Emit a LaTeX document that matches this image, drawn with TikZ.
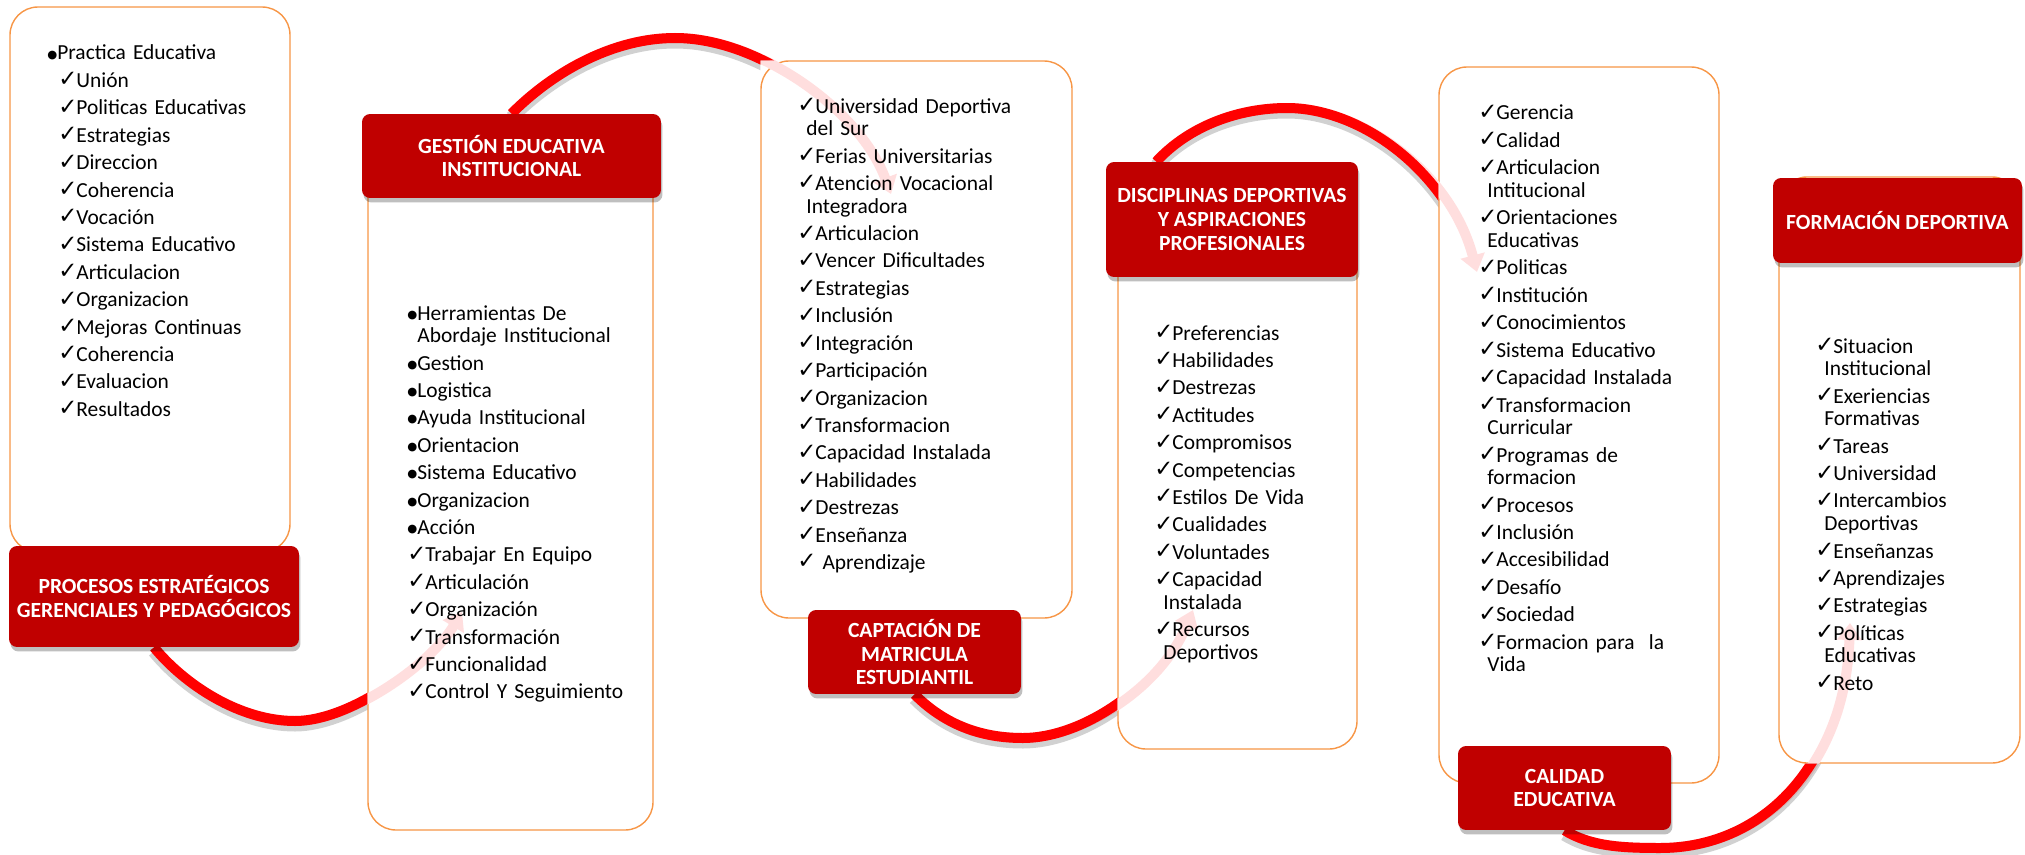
\documentclass[tikz,border=0pt]{standalone}
\usepackage{fontspec}
\setmainfont{Carlito}
\newfontfamily\checkfont{DejaVu Sans}
\usetikzlibrary{arrows.meta,fit,shadows,calc}
\definecolor{titlered}{RGB}{192,0,0}
\definecolor{boxorange}{RGB}{247,150,70}
\definecolor{arcred}{RGB}{255,0,0}
\pgfdeclarelayer{boxes}
\pgfdeclarelayer{arcs}
\pgfsetlayers{boxes,arcs,main}

\newcommand{\chkm}{\makebox[0.36cm][l]{\checkfont\fontsize{13}{13}\selectfont\raisebox{0.3pt}{✓}}}
\newcommand{\chkin}{\hspace*{0.22cm}\chkm}
\newcommand{\bull}{\makebox[0.2cm][l]{\checkfont\fontsize{6.5}{6.5}\selectfont\raisebox{1.1pt}{●}}}
\newcommand{\contind}{\hspace*{0.18cm}}
\newcommand{\nxt}{\\[2.7pt]}
% arc from a title into the next list box: solid outside the box, pale inside
\newcommand{\flowarc}[2]{%
  \draw[arcfade] #1;
  \begin{scope}[even odd rule]
    \clip (0,0) rectangle (2025,855) (#2.south west) rectangle (#2.north east);
    \draw[arcshadow] #1;
    \draw[arcsolid] #1;
  \end{scope}}

\begin{document}
\begin{tikzpicture}[
    x=0.02cm, y=-0.02cm,
    listbox/.style={rectangle, rounded corners=0.56cm, draw=boxorange, line width=0.8pt,
                 fill=white, inner sep=0pt},
    listtext/.style={anchor=base west, inner sep=0pt, text width=6cm, align=left,
                 font=\fontsize{12.2}{12.9}\selectfont},
    titlebox/.style={rectangle, rounded corners=0.16cm, fill=titlered, text=white, align=center,
                 font=\bfseries\fontsize{12.3}{13.4}\selectfont,
                 drop shadow={shadow xshift=0.03cm, shadow yshift=-0.09cm, opacity=0.25, fill=black}},
    arcsolid/.style={draw=arcred, line width=0.2cm},
    arcshadow/.style={draw=black, opacity=0.18, line width=0.26cm, transform canvas={yshift=-0.08cm}},
    arcfade/.style={draw=arcred!13, line width=0.2cm, -{Triangle[width=0.48cm,length=0.34cm]}}
]
\useasboundingbox (0,0) rectangle (2025,855);

\begin{pgfonlayer}{boxes}
\node[listbox, fit={(10,7) (290,552)}] (l1) {};
\node[listbox, fit={(368,118) (653,830)}] (l2) {};
\node[listbox, fit={(761,61) (1072,618)}] (l3) {};
\node[listbox, fit={(1118,168) (1357,749)}] (l4) {};
\node[listbox, fit={(1439,67) (1719,783)}] (l5) {};
\node[listbox, fit={(1779,177) (2020,763)}] (l6) {};
\end{pgfonlayer}

\node[titlebox, minimum width=5.8cm, minimum height=2.02cm] (t1) at (154,596.5)
    {PROCESOS ESTRATÉGICOS\\GERENCIALES Y PEDAGÓGICOS};
\node[titlebox, minimum width=5.98cm, minimum height=1.68cm] (t2) at (511.5,156)
    {GESTIÓN EDUCATIVA\\INSTITUCIONAL};
\node[titlebox, minimum width=4.26cm, minimum height=1.68cm] (t3) at (914.5,652)
    {CAPTACIÓN DE\\MATRICULA\\ESTUDIANTIL};
\node[titlebox, minimum width=5.04cm, minimum height=2.3cm] (t4) at (1232,219.5)
    {DISCIPLINAS DEPORTIVAS\\Y ASPIRACIONES\\PROFESIONALES};
\node[titlebox, minimum width=4.26cm, minimum height=1.68cm] (t5) at (1564.5,788)
    {CALIDAD\\EDUCATIVA};
\node[titlebox, minimum width=4.98cm, minimum height=1.7cm] (t6) at (1897.5,220.5)
    {FORMACIÓN DEPORTIVA};

\node[listtext] (x1) at (47,60) {\bull Practica Educativa\nxt
  \chkin Unión\nxt
  \chkin Politicas Educativas\nxt
  \chkin Estrategias\nxt
  \chkin Direccion\nxt
  \chkin Coherencia\nxt
  \chkin Vocación\nxt
  \chkin Sistema Educativo\nxt
  \chkin Articulacion\nxt
  \chkin Organizacion\nxt
  \chkin Mejoras Continuas\nxt
  \chkin Coherencia\nxt
  \chkin Evaluacion\nxt
  \chkin Resultados};

\node[listtext] (x2) at (407,320) {\bull Herramientas De\\
  \hspace*{0.2cm}Abordaje Institucional\nxt
  \bull Gestion\nxt
  \bull Logistica\nxt
  \bull Ayuda Institucional\nxt
  \bull Orientacion\nxt
  \bull Sistema Educativo\nxt
  \bull Organizacion\nxt
  \bull Acción\nxt
  \chkm Trabajar En Equipo\nxt
  \chkm Articulación\nxt
  \chkm Organización\nxt
  \chkm Transformación\nxt
  \chkm Funcionalidad\nxt
  \chkm Control Y Seguimiento};

\node[listtext] (x3) at (797,113) {\chkm Universidad Deportiva\\
  \contind del Sur\nxt
  \chkm Ferias Universitarias\nxt
  \chkm Atencion Vocacional\\
  \contind Integradora\nxt
  \chkm Articulacion\nxt
  \chkm Vencer Dificultades\nxt
  \chkm Estrategias\nxt
  \chkm Inclusión\nxt
  \chkm Integración\nxt
  \chkm Participación\nxt
  \chkm Organizacion\nxt
  \chkm Transformacion\nxt
  \chkm Capacidad Instalada\nxt
  \chkm Habilidades\nxt
  \chkm Destrezas\nxt
  \chkm Enseñanza\nxt
  \chkm\ Aprendizaje};

\node[listtext] (x4) at (1154,340) {\chkm Preferencias\nxt
  \chkm Habilidades\nxt
  \chkm Destrezas\nxt
  \chkm Actitudes\nxt
  \chkm Compromisos\nxt
  \chkm Competencias\nxt
  \chkm Estilos De Vida\nxt
  \chkm Cualidades\nxt
  \chkm Voluntades\nxt
  \chkm Capacidad\\
  \contind Instalada\nxt
  \chkm Recursos\\
  \contind Deportivos};

\node[listtext] (x5) at (1478,120) {\chkm Gerencia\nxt
  \chkm Calidad\nxt
  \chkm Articulacion\\
  \contind Intitucional\nxt
  \chkm Orientaciones\\
  \contind Educativas\nxt
  \chkm Politicas\nxt
  \chkm Institución\nxt
  \chkm Conocimientos\nxt
  \chkm Sistema Educativo\nxt
  \chkm Capacidad Instalada\nxt
  \chkm Transformacion\\
  \contind Curricular\nxt
  \chkm Programas de\\
  \contind formacion\nxt
  \chkm Procesos\nxt
  \chkm Inclusión\nxt
  \chkm Accesibilidad\nxt
  \chkm Desafío\nxt
  \chkm Sociedad\nxt
  \chkm Formacion para\ \ la\\
  \contind Vida};

\node[listtext] (x6) at (1815,353) {\chkm Situacion\\
  \contind Institucional\nxt
  \chkm Exeriencias\\
  \contind Formativas\nxt
  \chkm Tareas\nxt
  \chkm Universidad\nxt
  \chkm Intercambios\\
  \contind Deportivas\nxt
  \chkm Enseñanzas\nxt
  \chkm Aprendizajes\nxt
  \chkm Estrategias\nxt
  \chkm Políticas\\
  \contind Educativas\nxt
  \chkm Reto};

\coordinate (a1) at (462,612);
\coordinate (a2) at (891,194);
\coordinate (a3) at (1193,610);
\coordinate (a4) at (1477,272);
\coordinate (a5) at (1850,623);
\coordinate (s4) at ($(t4.north west)!0.2!(t4.north east)$);

\begin{pgfonlayer}{arcs}
\flowarc{(t1.south) .. controls (185,685) and (240,721) .. (295,721)
    .. controls (350,721) and (430,665) .. (a1)}{l2}
\flowarc{(t2.north) .. controls (555,70) and (615,38) .. (675,38)
    .. controls (760,38) and (860,110) .. (a2)}{l3}
\flowarc{(t3.south) .. controls (950,730) and (990,738) .. (1023,738)
    .. controls (1080,738) and (1160,690) .. (a3)}{l4}
\flowarc{(s4) .. controls (1190,125) and (1240,108) .. (1287,108)
    .. controls (1360,108) and (1450,170) .. (a4)}{l5}
\flowarc{(t5.south) .. controls (1590,846) and (1620,848) .. (1660,848)
    .. controls (1760,848) and (1845,770) .. (a5)}{l6}
\end{pgfonlayer}
\end{tikzpicture}
\end{document}
